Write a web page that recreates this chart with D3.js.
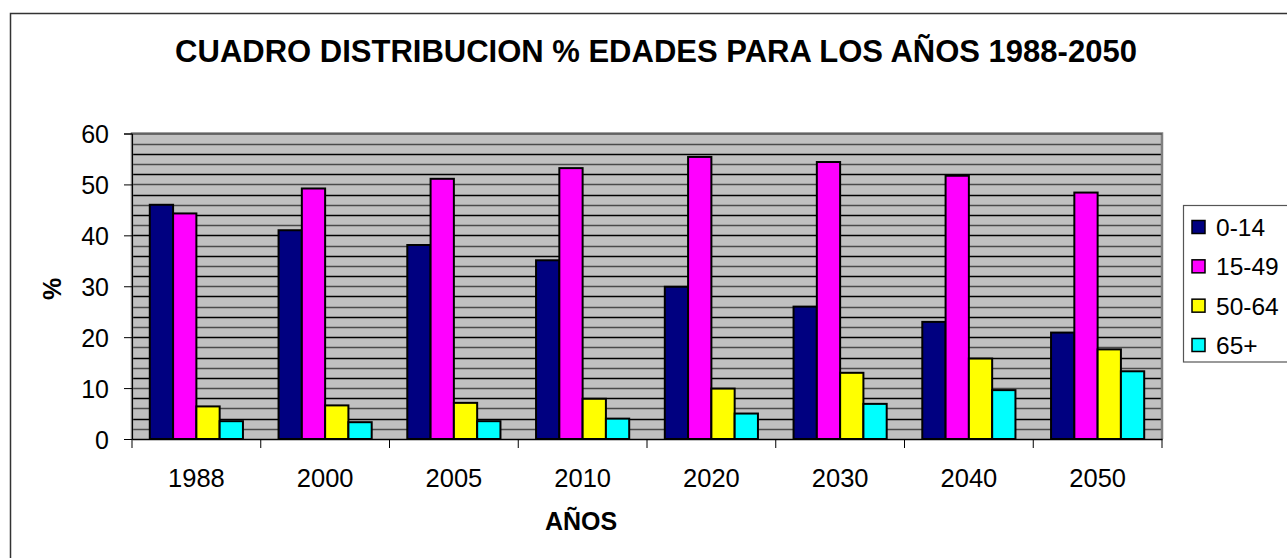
<!DOCTYPE html>
<html><head><meta charset="utf-8">
<script src="https://cdn.jsdelivr.net/npm/d3@7"></script>
<style>html,body{margin:0;padding:0;background:#fff;overflow:hidden}</style>
</head><body>
<svg id="c" width="1287" height="558"></svg>
<script>
const categories = ["1988","2000","2005","2010","2020","2030","2040","2050"];
const seriesNames = ["0-14","15-49","50-64","65+"];
const s0_14  = [46.0, 41.0, 38.1, 35.1, 29.9, 26.0, 23.0, 20.9];
const s15_49 = [44.3, 49.2, 51.1, 53.2, 55.4, 54.4, 51.7, 48.4];
const s50_64 = [6.4, 6.6, 7.1, 7.9, 9.9, 13.0, 15.8, 17.6];
const s65    = [3.5, 3.3, 3.5, 4.0, 5.0, 6.9, 9.6, 13.3];
const yTicks = [0,10,20,30,40,50,60];
const colors = ["#000080","#FF00FF","#FFFF00","#00FFFF"];
const title = "CUADRO DISTRIBUCION % EDADES PARA LOS AÑOS 1988-2050";

const series = [s0_14, s15_49, s50_64, s65];
const svg = d3.select("#c");
const font = "'Liberation Sans', Arial, sans-serif";

// outer chart border (extends beyond viewport right/bottom)
svg.append("rect").attr("x",10.5).attr("y",13.5).attr("width",1400).attr("height",700)
  .attr("fill","#fff").attr("stroke","#333").attr("stroke-width",1.5);

const L = 132, R = 1162, T = 133.5, B = 439;
const x = d3.scaleBand().domain(categories).range([L,R]).paddingInner(0).paddingOuter(0);
const y = d3.scaleLinear().domain([0,60]).range([B,T]);

// plot background
svg.append("rect").attr("x",L).attr("y",T).attr("width",R-L).attr("height",B-T)
  .attr("fill","#C0C0C0");

// gridlines every 2
const grid = d3.range(2,60,2);
svg.append("g").selectAll("line").data(grid).join("line")
  .attr("x1",L).attr("x2",R).attr("y1",d=>Math.round(y(d))+0.5).attr("y2",d=>Math.round(y(d))+0.5)
  .attr("stroke",d=> (d%4===0)?"#000":"#4a4a4a").attr("stroke-width",1.3);

// plot frame (gray)
svg.append("path").attr("d",`M${L},${B} V${T} H${R} V${B}`)
  .attr("fill","none").attr("stroke","#808080").attr("stroke-width",2.5);
svg.append("line").attr("x1",L).attr("x2",R).attr("y1",T+0.5).attr("y2",T+0.5).attr("stroke","#444").attr("stroke-width",1);

// bars
const groupPad = 17.8;
const inner = d3.scaleBand().domain(seriesNames).range([groupPad, x.bandwidth()-groupPad]).padding(0);
const g = svg.append("g");
categories.forEach((c,i)=>{
  seriesNames.forEach((s,j)=>{
    const v = series[j][i];
    g.append("rect")
      .attr("x", x(c)+inner(s)).attr("width", inner.bandwidth())
      .attr("y", y(v)).attr("height", B - y(v))
      .attr("fill", colors[j]).attr("stroke","#000").attr("stroke-width",2);
  });
});

// y axis
const yAxis = d3.axisLeft(y).tickValues(yTicks).tickSize(8).tickPadding(15);
const ya = svg.append("g").attr("transform",`translate(${L},0)`).call(yAxis);
ya.select(".domain").attr("stroke","#000").attr("stroke-width",1);
ya.selectAll(".tick line").attr("stroke","#000");
ya.selectAll("text").attr("font-family",font).attr("font-size",25).attr("fill","#000")
  .attr("dy","0.36em");

// x axis
const xAxis = d3.axisBottom(x).tickSize(0).tickPadding(0);
const xa = svg.append("g").attr("transform",`translate(0,${B})`).call(xAxis);
xa.select(".domain").attr("stroke","#000").attr("stroke-width",1.5);
xa.selectAll("text").attr("font-family",font).attr("font-size",25.5).attr("fill","#000")
  .attr("dy",0).attr("y",48);
// tick marks at band boundaries
const bounds = categories.map(c=>x(c)).concat([R]);
svg.append("g").selectAll("line").data(bounds).join("line")
  .attr("x1",d=>d).attr("x2",d=>d).attr("y1",B).attr("y2",B+9)
  .attr("stroke","#000").attr("stroke-width",1);

// title
svg.append("text").attr("x",656).attr("y",62).attr("text-anchor","middle")
  .attr("font-family",font).attr("font-weight","bold").attr("font-size",31).text(title);

// axis titles
svg.append("text").attr("transform","translate(61,289) rotate(-90)").attr("text-anchor","middle")
  .attr("font-family",font).attr("font-weight","bold").attr("font-size",25).text("%");
svg.append("text").attr("x",581).attr("y",530).attr("text-anchor","middle")
  .attr("font-family",font).attr("font-weight","bold").attr("font-size",25).text("AÑOS");

// legend
const lg = svg.append("g");
lg.append("rect").attr("x",1183.5).attr("y",205.5).attr("width",200).attr("height",156.5)
  .attr("fill","#fff").attr("stroke","#555").attr("stroke-width",1.2);
const ly = d3.scalePoint().domain(seriesNames).range([236,354]);
seriesNames.forEach((s,j)=>{
  lg.append("rect").attr("x",1192).attr("y",ly(s)-15.5).attr("width",13).attr("height",13)
    .attr("fill",colors[j]).attr("stroke","#000").attr("stroke-width",1.5);
  lg.append("text").attr("x",1216).attr("y",ly(s)).attr("font-family",font)
    .attr("font-size",24.5).text(s);
});
</script>
</body></html>
